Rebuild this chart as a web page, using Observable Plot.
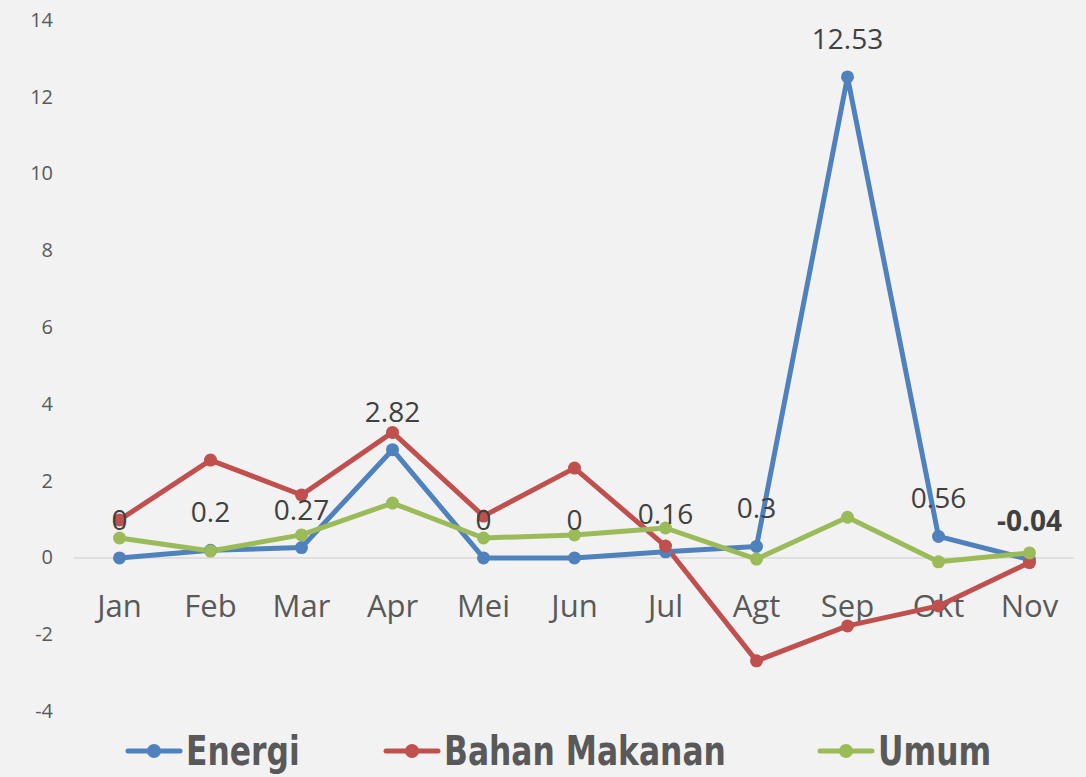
<!DOCTYPE html>
<html>
<head>
<meta charset="utf-8">
<script src="https://cdn.jsdelivr.net/npm/d3@7"></script>
<script src="https://cdn.jsdelivr.net/npm/@observablehq/plot@0.6"></script>
<style>
  html, body { margin: 0; padding: 0; background: #f2f2f2; width: 1086px; height: 777px; overflow: hidden; }
  #chart svg { display: block; background: #f2f2f2; }
  #legend { position: relative; height: 52px; font-family: "DejaVu Sans Condensed", "Open Sans", sans-serif; font-stretch: condensed; font-weight: bold; font-size: 41px; line-height: 44px; color: #595959; }
  .item { position: absolute; top: 4px; display: flex; align-items: center; white-space: nowrap; }
  .item svg { margin-right: 3px; }
  .item span { display: inline-block; transform: scaleX(0.85); transform-origin: left center; }
</style>
</head>
<body>
<div id="chart"></div>
<div id="legend"></div>
<script>
const months = ["Jan", "Feb", "Mar", "Apr", "Mei", "Jun", "Jul", "Agt", "Sep", "Okt", "Nov"];
const seriesNames = ["Energi", "Bahan Makanan", "Umum"];
const seriesColors = ["#4f81bd", "#c0504d", "#9bbb59"];
const energi = [0, 0.2, 0.27, 2.82, 0, 0, 0.16, 0.3, 12.53, 0.56, -0.04];
const bahanMakanan = [0.99, 2.55, 1.64, 3.27, 1.09, 2.34, 0.31, -2.68, -1.77, -1.25, -0.12];
const umum = [0.52, 0.18, 0.6, 1.43, 0.52, 0.6, 0.78, -0.03, 1.06, -0.1, 0.13];
const energiLabels = ["0", "0.2", "0.27", "2.82", "0", "0", "0.16", "0.3", "12.53", "0.56", "-0.04"];
const yTicks = [-4, -2, 0, 2, 4, 6, 8, 10, 12, 14];

const values = [energi, bahanMakanan, umum];
const rows = [];
seriesNames.forEach((s, i) => months.forEach((m, j) => rows.push({series: s, month: m, value: values[i][j]})));
const labelRows = months.map((m, j) => ({month: m, value: energi[j], label: energiLabels[j], bold: j === months.length - 1}));

const chart = Plot.plot({
  width: 1086,
  height: 725,
  marginLeft: 73.5,
  marginRight: 11.5,
  marginTop: 20,
  marginBottom: 14,
  style: {background: "#f2f2f2", fontFamily: "'Open Sans', sans-serif"},
  x: {type: "point", domain: months, padding: 0.5, axis: null},
  y: {domain: [-4, 14], ticks: yTicks, tickSize: 0, tickPadding: 21, tickFormat: d => String(d), label: null},
  color: {domain: seriesNames, range: seriesColors},
  marks: [
    Plot.ruleY([0], {stroke: "#d9d9d9", strokeWidth: 1.5}),
    Plot.axisY({ticks: yTicks, tickSize: 0, tickPadding: 21, fontSize: 20, color: "#595959", label: null, tickFormat: d => String(d)}),
    Plot.text(months, {x: d => d, y: 0, dy: 49, text: d => d, fontSize: 31, fill: "#595959"}),
    Plot.line(rows, {x: "month", y: "value", z: "series", stroke: "series", strokeWidth: 5, strokeLinejoin: "round", strokeLinecap: "round"}),
    Plot.dot(rows, {x: "month", y: "value", fill: "series", r: 6.5}),
    Plot.text(labelRows.filter(d => !d.bold), {x: "month", y: "value", text: "label", dy: -37, fontSize: 28, fill: "#404040"}),
    Plot.text(labelRows.filter(d => d.bold), {x: "month", y: "value", text: "label", dy: -37, fontSize: 28, fontWeight: "bold", fill: "#404040"})
  ]
});
document.getElementById("chart").appendChild(chart);

const legendLefts = [125, 383, 817];
const legend = document.getElementById("legend");
seriesNames.forEach((s, i) => {
  const item = document.createElement("div");
  item.className = "item";
  item.style.left = legendLefts[i] + "px";
  item.innerHTML = `<svg width="58" height="20"><line x1="3" y1="10" x2="55" y2="10" stroke="${seriesColors[i]}" stroke-width="5" stroke-linecap="round"/><circle cx="29" cy="10" r="7" fill="${seriesColors[i]}"/></svg><span>${s}</span>`;
  legend.appendChild(item);
});
</script>
</body>
</html>
